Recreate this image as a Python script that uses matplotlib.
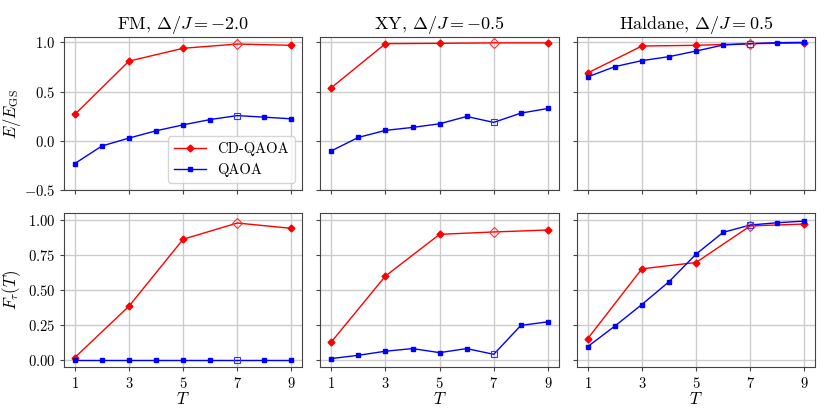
import numpy as np
import matplotlib
matplotlib.use("Agg")
import matplotlib.pyplot as plt
from matplotlib.ticker import FuncFormatter

plt.rcParams["font.family"] = "serif"
plt.rcParams["font.serif"] = ["cmr10", "DejaVu Serif"]
plt.rcParams["mathtext.fontset"] = "cm"
plt.rcParams["axes.formatter.use_mathtext"] = True

# data
T_cd = [1, 3, 5, 7, 9]
T_qa = [1, 2, 3, 4, 5, 6, 7, 8, 9]
titles = [r"FM, $\Delta/J=-2.0$", r"XY, $\Delta/J=-0.5$", r"Haldane, $\Delta/J=0.5$"]

energy_cd = [
    [0.27, 0.81, 0.94, 0.983, 0.97],
    [0.54, 0.987, 0.99, 0.995, 0.995],
    [0.69, 0.963, 0.97, 0.987, 0.993],
]
energy_qa = [
    [-0.228, -0.05, 0.03, 0.104, 0.164, 0.218, 0.258, 0.242, 0.225],
    [-0.10, 0.037, 0.108, 0.138, 0.175, 0.249, 0.189, 0.283, 0.33],
    [0.65, 0.754, 0.815, 0.855, 0.912, 0.973, 0.987, 0.997, 1.0],
]
fid_cd = [
    [0.017, 0.385, 0.865, 0.981, 0.943],
    [0.128, 0.601, 0.90, 0.917, 0.931],
    [0.152, 0.653, 0.698, 0.96, 0.974],
]
fid_qa = [
    [0.0, 0.0, 0.0, 0.0, 0.0, 0.0, 0.0, 0.0, 0.0],
    [0.0095, 0.033, 0.062, 0.081, 0.052, 0.081, 0.04, 0.247, 0.273],
    [0.095, 0.242, 0.397, 0.56, 0.758, 0.914, 0.967, 0.983, 0.995],
]
T_open = 7  # highlighted (open marker) point

fig, axes = plt.subplots(2, 3, figsize=(8.31, 4.15), dpi=100, sharex=True, sharey="row")
fig.subplots_adjust(left=0.077, right=0.981, top=0.911, bottom=0.116, wspace=0.076, hspace=0.15)


def draw(ax, ycd, yqa, legend=False):
    ax.grid(True, color="#cccccc", linewidth=1.0)
    ax.set_axisbelow(True)
    ax.plot(T_cd, ycd, color="red", marker="D", markersize=3.5, linewidth=1.0,
            label="CD-QAOA", markevery=[i for i, t in enumerate(T_cd) if t != T_open])
    ax.plot(T_qa, yqa, color="blue", marker="s", markersize=3.5, linewidth=1.0,
            label="QAOA", markevery=[i for i, t in enumerate(T_qa) if t != T_open])
    i = T_cd.index(T_open)
    ax.plot(T_cd[i], ycd[i], linestyle="none", marker="D", markersize=5,
            markerfacecolor="none", markeredgecolor="#ff3333", markeredgewidth=0.8)
    j = T_qa.index(T_open)
    ax.plot(T_qa[j], yqa[j], linestyle="none", marker="s", markersize=5,
            markerfacecolor="none", markeredgecolor="#3333ff", markeredgewidth=0.8)
    for s in ax.spines.values():
        s.set_color("#444444")
    ax.tick_params(direction="out", length=3, color="#444444", labelsize=10.5)
    if legend:
        ax.legend(loc="lower right", fontsize=10.5, framealpha=0.8, edgecolor="#cccccc",
                  handlelength=2.2)


for k in range(3):
    draw(axes[0, k], energy_cd[k], energy_qa[k], legend=(k == 0))
    draw(axes[1, k], fid_cd[k], fid_qa[k])
    axes[0, k].set_title(titles[k], fontsize=13)
    axes[1, k].set_xlabel(r"$T$", fontsize=12, labelpad=0)

axes[0, 0].set_xlim(0.6, 9.4)
axes[0, 0].set_xticks([1, 3, 5, 7, 9])
axes[0, 0].set_ylim(-0.5, 1.055)
axes[0, 0].set_yticks([-0.5, 0.0, 0.5, 1.0])
axes[1, 0].set_ylim(-0.05, 1.05)
axes[1, 0].set_yticks([0.0, 0.25, 0.5, 0.75, 1.0])
axes[0, 0].yaxis.set_major_formatter(FuncFormatter(lambda v, p: r"$%.1f$" % v))
axes[1, 0].yaxis.set_major_formatter(FuncFormatter(lambda v, p: r"$%.2f$" % v))
axes[0, 0].xaxis.set_major_formatter(FuncFormatter(lambda v, p: r"$%d$" % v))
axes[0, 0].set_ylabel(r"$E/E_{\rm GS}$", fontsize=12)
axes[1, 0].set_ylabel(r"$F_\tau(T)$", fontsize=12)
axes[0, 0].yaxis.set_label_coords(-0.17, 0.5)
axes[1, 0].yaxis.set_label_coords(-0.17, 0.5)

fig.savefig("out.png", dpi=100)
